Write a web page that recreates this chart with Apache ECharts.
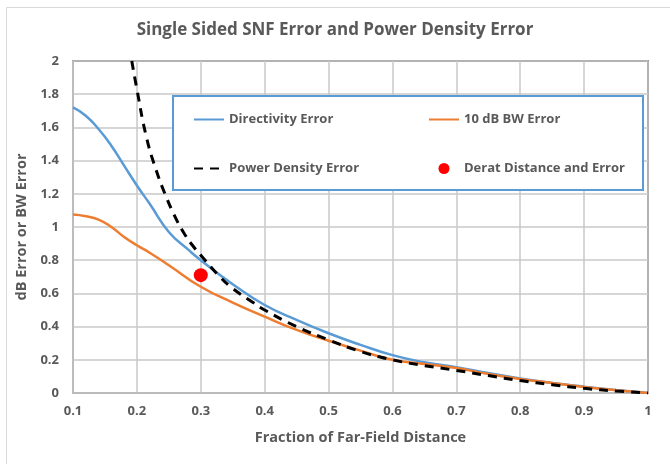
<!DOCTYPE html>
<html>
<head>
<meta charset="utf-8">
<script src="https://cdn.jsdelivr.net/npm/echarts@6/dist/echarts.min.js"></script>
<style>
  html, body { margin: 0; padding: 0; background: #fff; }
  #chart { width: 670px; height: 464px; }
</style>
</head>
<body>
<div id="chart"></div>
<script>
  // values
  const directivityX = [0.10, 0.12, 0.14, 0.16, 0.18, 0.20, 0.22, 0.25, 0.28, 0.30, 0.35, 0.40, 0.45, 0.50, 0.55, 0.60, 0.65, 0.70, 0.75, 0.80, 0.85, 0.90, 0.95, 1.00];
  const directivityY = [1.72, 1.67, 1.59, 1.49, 1.37, 1.25, 1.14, 0.97, 0.865, 0.80, 0.655, 0.53, 0.44, 0.36, 0.29, 0.228, 0.185, 0.155, 0.12, 0.088, 0.06, 0.038, 0.018, 0];

  const bwX = [0.10, 0.12, 0.14, 0.16, 0.18, 0.20, 0.22, 0.25, 0.30, 0.35, 0.40, 0.45, 0.50, 0.55, 0.60, 0.65, 0.70, 0.75, 0.80, 0.85, 0.90, 0.95, 1.00];
  const bwY = [1.075, 1.065, 1.045, 1.0, 0.94, 0.89, 0.845, 0.77, 0.64, 0.545, 0.46, 0.38, 0.315, 0.255, 0.20, 0.175, 0.15, 0.115, 0.085, 0.06, 0.036, 0.017, 0];

  const powerX = [0.192, 0.20, 0.215, 0.23, 0.245, 0.26, 0.275, 0.29, 0.30, 0.33, 0.35, 0.38, 0.40, 0.45, 0.50, 0.55, 0.60, 0.65, 0.70, 0.75, 0.80, 0.85, 0.90, 0.95, 1.00];
  const powerY = [2.0, 1.83, 1.54, 1.345, 1.19, 1.06, 0.955, 0.875, 0.83, 0.70, 0.63, 0.55, 0.50, 0.40, 0.32, 0.25, 0.20, 0.165, 0.136, 0.105, 0.075, 0.05, 0.028, 0.012, 0];

  const deratX = [0.3];
  const deratY = [0.71];

  const pairs = (xs, ys) => xs.map((x, i) => [x, ys[i]]);

  const font = 'Open Sans';
  const grey = '#595959';
  const legendText = { fontFamily: font, fontSize: 13, fontWeight: 'bold', color: grey };
  const noSymbol = { opacity: 0 };

  const chart = echarts.init(document.getElementById('chart'));
  chart.setOption({
    animation: false,
    textStyle: { fontFamily: font },
    title: {
      text: 'Single Sided SNF Error and Power Density Error',
      left: 'center',
      top: 17,
      textStyle: { fontFamily: font, fontSize: 17, fontWeight: 'bold', color: grey }
    },
    graphic: [{
      type: 'rect',
      shape: { x: 6.5, y: 7.5, width: 700, height: 500 },
      style: { fill: 'none', stroke: '#d9d9d9', lineWidth: 1 },
      silent: true
    }, {
      type: 'rect',
      shape: { x: 173, y: 96, width: 470, height: 94 },
      style: { fill: '#fff', stroke: '#5b9bd5', lineWidth: 2 },
      z: 90,
      silent: true
    }],
    legend: [{
      left: 193,
      top: 113,
      padding: 0,
      orient: 'vertical',
      itemWidth: 30,
      itemHeight: 11,
      itemGap: 36,
      z: 100,
      textStyle: legendText,
      data: [
        { name: 'Directivity Error', itemStyle: noSymbol },
        { name: 'Power Density Error', itemStyle: noSymbol }
      ]
    }, {
      left: 428,
      top: 113,
      padding: 0,
      orient: 'vertical',
      itemWidth: 30,
      itemHeight: 11,
      itemGap: 36,
      z: 100,
      textStyle: legendText,
      data: [
        { name: '10 dB BW Error', itemStyle: noSymbol },
        { name: 'Derat Distance and Error', icon: 'circle' }
      ]
    }],
    grid: {
      left: 73, right: 22, top: 61, bottom: 71,
      show: true,
      borderColor: '#404040',
      borderWidth: 1.5
    },
    xAxis: {
      type: 'value',
      min: 0.1, max: 1, interval: 0.1,
      name: 'Fraction of Far-Field Distance',
      nameLocation: 'middle',
      nameGap: 37,
      nameTextStyle: { fontFamily: font, fontSize: 14.5, fontWeight: 'bold', color: grey },
      axisLine: { lineStyle: { color: '#bfbfbf', width: 1.5 } },
      axisTick: { show: false },
      axisLabel: {
        margin: 12,
        fontFamily: font, fontSize: 13, fontWeight: 'bold', color: grey,
        formatter: v => String(Math.round(v * 10) / 10)
      },
      splitLine: { lineStyle: { color: '#c8c8c8', width: 1.5 } }
    },
    yAxis: {
      type: 'value',
      min: 0, max: 2, interval: 0.2,
      name: 'dB Error or BW Error',
      nameLocation: 'middle',
      nameGap: 42,
      nameTextStyle: { fontFamily: font, fontSize: 14.5, fontWeight: 'bold', color: grey },
      axisLine: { show: true, lineStyle: { color: '#bfbfbf', width: 1.5 } },
      axisTick: { show: false },
      axisLabel: {
        margin: 14,
        fontFamily: font, fontSize: 13, fontWeight: 'bold', color: grey,
        formatter: v => String(Math.round(v * 10) / 10)
      },
      splitLine: { lineStyle: { color: '#c8c8c8', width: 1.5 } }
    },
    series: [{
      name: 'Directivity Error',
      type: 'line',
      smooth: true,
      symbol: 'none',
      color: '#5b9bd5',
      lineStyle: { width: 2.5, color: '#5b9bd5' },
      data: pairs(directivityX, directivityY)
    }, {
      name: '10 dB BW Error',
      type: 'line',
      smooth: true,
      symbol: 'none',
      color: '#ed7d31',
      lineStyle: { width: 2.5, color: '#ed7d31' },
      data: pairs(bwX, bwY)
    }, {
      name: 'Power Density Error',
      type: 'line',
      smooth: true,
      symbol: 'none',
      color: '#000',
      lineStyle: { width: 3, color: '#000', type: [9, 7] },
      data: pairs(powerX, powerY)
    }, {
      name: 'Derat Distance and Error',
      type: 'scatter',
      symbolSize: 14,
      color: '#ff0000',
      itemStyle: { color: '#ff0000', opacity: 1 },
      z: 5,
      data: pairs(deratX, deratY)
    }]
  });
</script>
</body>
</html>
